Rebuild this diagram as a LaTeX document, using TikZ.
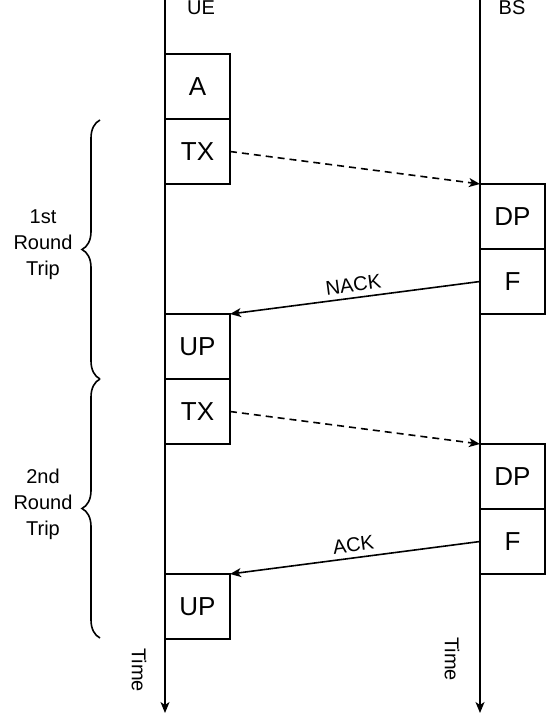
\documentclass[tikz,border=0pt]{standalone}
\usepackage{fontspec}
\setmainfont{Liberation Sans}
\usetikzlibrary{arrows.meta}
\usetikzlibrary{positioning,decorations.pathreplacing}

\begin{document}
\begin{tikzpicture}[x=1pt,y=1pt,>={Stealth[length=11pt,width=9pt,inset=3pt]},node distance=0pt,line width=1.6pt,
                    box node/.style={rectangle,draw,minimum width=65pt,minimum height=65pt,
                      inner sep=0pt,outer sep=0pt,font=\fontsize{26}{30}\selectfont},
                    lbl node/.style={font=\fontsize{20}{26}\selectfont,align=center}]
  \useasboundingbox (0,0) rectangle (546,-714);

  % time lines
  \coordinate (ue top) at (165,0);
  \coordinate (ue end) at (165,-713);
  \coordinate (bs top) at (480,0);
  \coordinate (bs end) at (480,-713);
  \draw[->] (ue top) -- (ue end);
  \draw[->] (bs top) -- (bs end);

  \node[lbl node] (ue) at (201,-8) {UE};
  \node[lbl node] (bs) at (512,-8) {BS};

  % UE boxes
  \node[box node,anchor=north west] (a) at (165,-54) {A};
  \node[box node] (tx1) [below=of a] {TX};
  \node[box node] (up1) [below=130pt of tx1] {UP};
  \node[box node] (tx2) [below=of up1] {TX};
  \node[box node] (up2) [below=130pt of tx2] {UP};

  % BS boxes
  \node[box node,anchor=north west] (dp1) at (480,-184) {DP};
  \node[box node] (f1) [below=of dp1] {F};
  \node[box node] (dp2) [below=130pt of f1] {DP};
  \node[box node] (f2) [below=of dp2] {F};

  \path[->,every node/.style={lbl node,sloped,above=2pt}]
    (tx1.east) edge[dash pattern=on 7pt off 5pt] (dp1.north west)
    (f1.west) edge node {NACK} (up1.north east)
    (tx2.east) edge[dash pattern=on 7pt off 5pt] (dp2.north west)
    (f2.west) edge node {ACK} (up2.north east);

  % round trips
  \coordinate (rt1 top) at (100,-120);
  \coordinate (rt1 bot) at (100,-379);
  \coordinate (rt2 top) at (100,-379);
  \coordinate (rt2 bot) at (100,-638);
  \draw[decorate,decoration={brace,amplitude=18pt}] (rt1 bot) -- (rt1 top);
  \draw[decorate,decoration={brace,amplitude=18pt}] (rt2 bot) -- (rt2 top);
  \node[lbl node] (rt1) at (43,-245) {1st\\Round\\Trip};
  \node[lbl node] (rt2) at (43,-504) {2nd\\Round\\Trip};

  \node[lbl node,rotate=-90] (time ue) at (139,-670) {Time};
  \node[lbl node,rotate=-90] (time bs) at (452,-659) {Time};
\end{tikzpicture}
\end{document}
